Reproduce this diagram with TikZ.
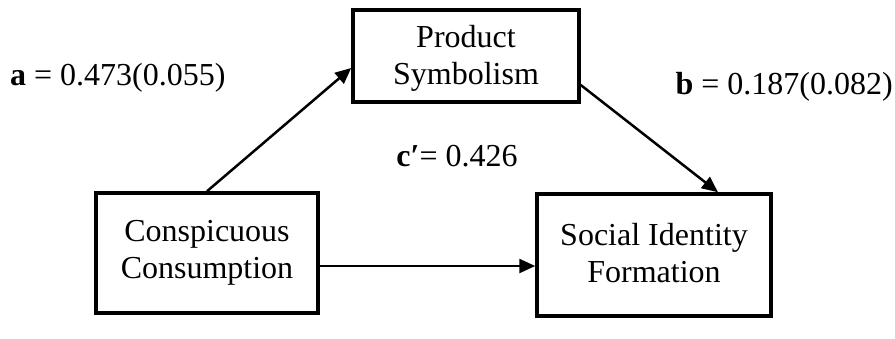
\documentclass[tikz,border=0pt]{standalone}
\usepackage{fontspec}
\setmainfont{Liberation Serif}
\usetikzlibrary{arrows.meta}
\begin{document}
\begin{tikzpicture}[x=1pt,y=-1pt,
  box/.style={draw,line width=3.5pt,inner sep=0pt},
  txt/.style={align=center,inner sep=0pt,font=\fontsize{32}{37.5}\selectfont},
  lab/.style={inner sep=0pt,font=\fontsize{32}{37}\selectfont},
  arr/.style={line width=2.5pt,-{Triangle[length=16pt,width=14pt]}}]
\useasboundingbox (0,0) rectangle (895,338);
\node[box,minimum width=226pt,minimum height=92pt] (P) at (466,56) {};
\node[txt] (Pt) at (466,58.5) {Product\\Symbolism};
\node[box,minimum width=222pt,minimum height=120pt] (C) at (207,253) {};
\node[txt] (Ct) at (207,253) {Conspicuous\\Consumption};
\node[box,minimum width=234pt,minimum height=122pt] (S) at (654,255) {};
\node[txt] (St) at (654,253) {Social Identity\\Formation};
\coordinate (pin) at (P.west |- 0,68);
\coordinate (pout) at (P.east |- 0,85);
\coordinate (sin) at (S.north -| 718,0);
\coordinate (cout) at (C.east |- 0,266);
\coordinate (sin2) at (S.west |- 0,266);
\draw[arr] (C.north) -- (pin);
\draw[arr] (pout) -- (sin);
\draw[arr] (cout) -- (sin2);
\node[lab,anchor=west] (la) at (10,78) {\textbf{a} = 0.473(0.055)};
\node[lab,anchor=east] (lb) at (893,87) {\textbf{b} = 0.187(0.082)};
\node[lab] (lc) at (457,156) {\textbf{c′}= 0.426};
\end{tikzpicture}
\end{document}
